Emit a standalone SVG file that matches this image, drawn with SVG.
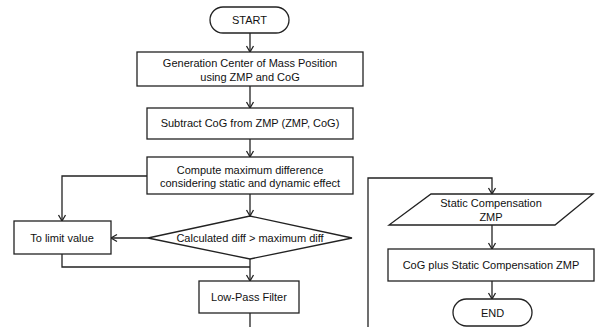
<svg xmlns="http://www.w3.org/2000/svg" width="599" height="327" viewBox="0 0 599 327">
  <style>
    .box { fill: #ffffff; stroke: #222222; stroke-width: 1.3; }
    .link { fill: none; stroke: #222222; stroke-width: 1.3; }
    text { font-family: "Liberation Sans", Arial, sans-serif; font-size: 11px; fill: #111111; text-anchor: middle; }
  </style>
  <defs>
    <marker id="arrow" markerWidth="10" markerHeight="10" refX="8" refY="5" orient="auto" markerUnits="userSpaceOnUse">
      <polyline points="2,1.5 8,5 2,8.5" fill="none" stroke="#222222" stroke-width="1.3"/>
    </marker>
  </defs>
  <rect width="599" height="327" fill="#ffffff"/>

  <g id="connectors">
    <line class="link" x1="250" y1="33" x2="250" y2="52" marker-end="url(#arrow)"/>
    <line class="link" x1="250" y1="86" x2="250" y2="108" marker-end="url(#arrow)"/>
    <line class="link" x1="250" y1="139" x2="250" y2="157" marker-end="url(#arrow)"/>
    <line class="link" x1="250" y1="194" x2="250" y2="216" marker-end="url(#arrow)"/>
    <polyline class="link" points="147,176 62,176 62,221" marker-end="url(#arrow)"/>
    <line class="link" x1="148" y1="238" x2="111" y2="238" marker-end="url(#arrow)"/>
    <polyline class="link" points="62,254 62,267 250,267"/>
    <line class="link" x1="250" y1="259" x2="250" y2="281" marker-end="url(#arrow)"/>
    <line class="link" x1="250" y1="313" x2="250" y2="327"/>
    <polyline class="link" points="368,327 368,178 492,178 492,194" marker-end="url(#arrow)"/>
    <line class="link" x1="492" y1="225" x2="492" y2="249" marker-end="url(#arrow)"/>
    <line class="link" x1="492" y1="281" x2="492" y2="299" marker-end="url(#arrow)"/>
  </g>

  <g id="start">
    <rect class="box" x="210" y="7" width="79" height="26" rx="13" ry="13"/>
    <text x="249.5" y="24">START</text>
  </g>

  <g id="generation">
    <rect class="box" x="137" y="52" width="226" height="34"/>
    <text x="250" y="67">Generation Center of Mass Position</text>
    <text x="250" y="81">using ZMP and CoG</text>
  </g>

  <g id="subtract">
    <rect class="box" x="147" y="108" width="206" height="31"/>
    <text x="250" y="127">Subtract CoG from ZMP (ZMP, CoG)</text>
  </g>

  <g id="compute">
    <rect class="box" x="147" y="157" width="206" height="37"/>
    <text x="250" y="174">Compute maximum difference</text>
    <text x="250" y="187">considering static and dynamic effect</text>
  </g>

  <g id="decision">
    <polygon class="box" points="148,238 250,216 352,238 250,259"/>
    <text x="250" y="242">Calculated diff &gt; maximum diff</text>
  </g>

  <g id="limit">
    <rect class="box" x="14" y="221" width="97" height="33"/>
    <text x="62" y="242">To limit value</text>
  </g>

  <g id="lowpass">
    <rect class="box" x="199" y="281" width="100" height="32"/>
    <text x="249" y="301">Low-Pass Filter</text>
  </g>

  <g id="static-zmp">
    <polygon class="box" points="431,194 593,194 555,225 389,225"/>
    <text x="491" y="207">Static Compensation</text>
    <text x="491" y="221">ZMP</text>
  </g>

  <g id="cog-plus">
    <rect class="box" x="388" y="249" width="206" height="32"/>
    <text x="491" y="269">CoG plus Static Compensation ZMP</text>
  </g>

  <g id="end">
    <rect class="box" x="453" y="299" width="79" height="27" rx="13.5" ry="13.5"/>
    <text x="492.5" y="317">END</text>
  </g>
</svg>
